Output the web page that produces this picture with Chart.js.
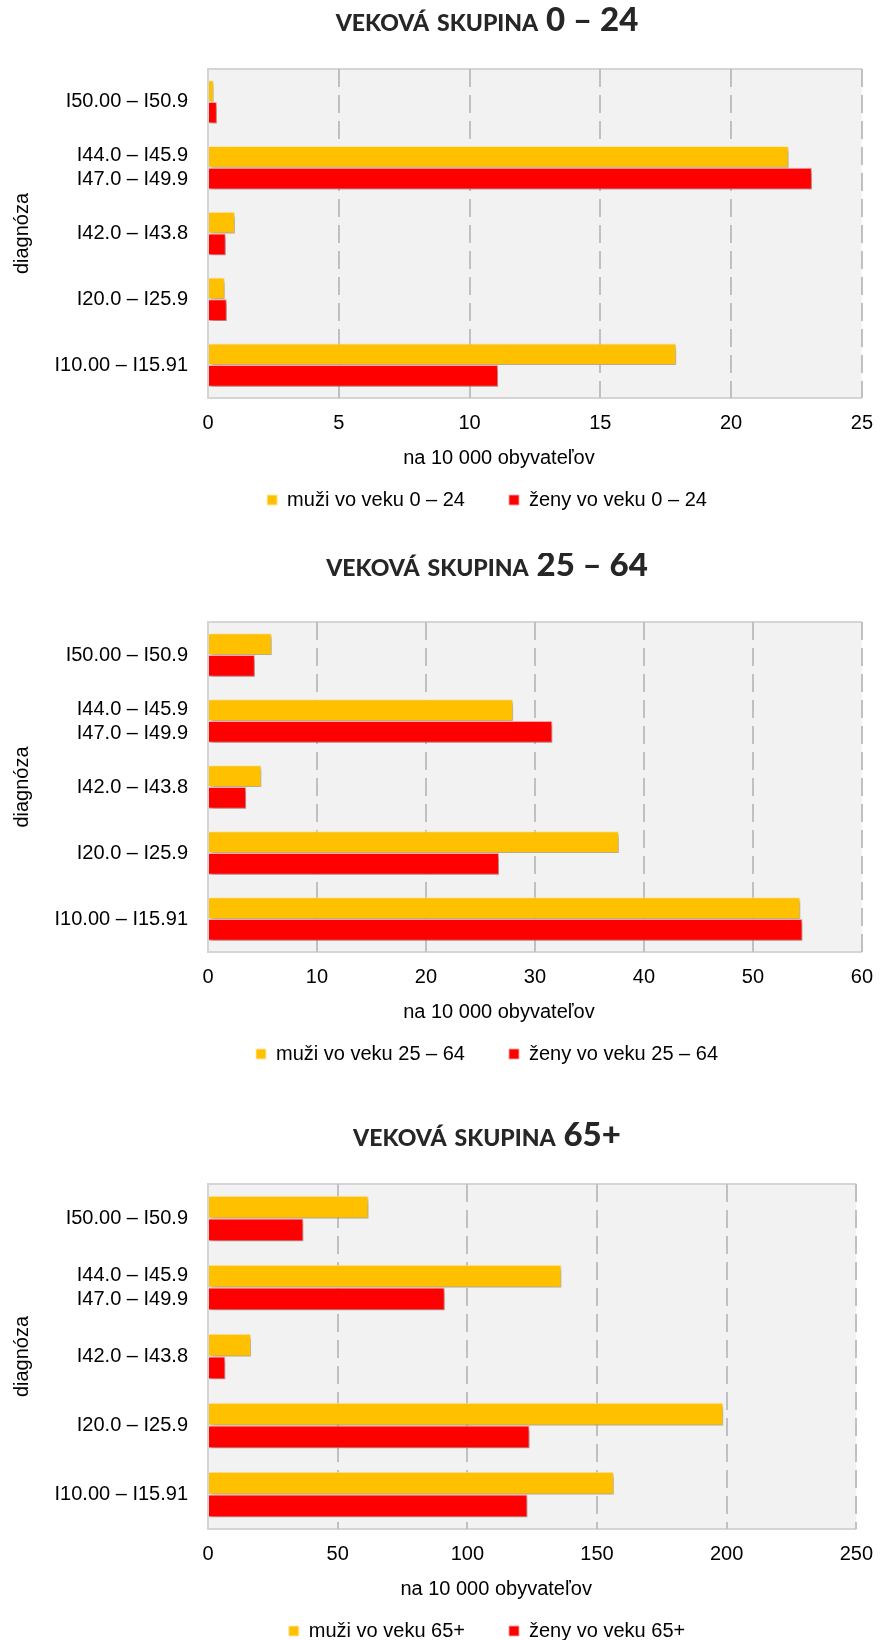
<!DOCTYPE html>
<html><head><meta charset="utf-8">
<script src="https://cdn.jsdelivr.net/npm/chart.js@4.4.1/dist/chart.umd.min.js"></script>
<style>
html,body{margin:0;padding:0;background:#fff;overflow:hidden;width:886px;height:1640px;}
.box{position:absolute;left:0;width:886px;}
</style></head><body>
<div class="box" style="top:0;height:553px"><canvas id="c1"></canvas></div>
<div class="box" style="top:553px;height:562px"><canvas id="c2"></canvas></div>
<div class="box" style="top:1115px;height:525px"><canvas id="c3"></canvas></div>
<script>
// ---- data ----
const diagnoses = ['I50.00 – I50.9', ['I44.0 – I45.9', 'I47.0 – I49.9'], 'I42.0 – I43.8', 'I20.0 – I25.9', 'I10.00 – I15.91'];
const chartTitles = ['veková skupina 0 – 24', 'veková skupina 25 – 64', 'veková skupina 65+'];
const menLabels = ['muži vo veku 0 – 24', 'muži vo veku 25 – 64', 'muži vo veku 65+'];
const womenLabels = ['ženy vo veku 0 – 24', 'ženy vo veku 25 – 64', 'ženy vo veku 65+'];
const xAxisTitle = 'na 10 000 obyvateľov';
const yAxisTitle = 'diagnóza';

const men0_24 = [0.22, 22.2, 1.03, 0.64, 17.9];
const women0_24 = [0.34, 23.09, 0.68, 0.72, 11.09];
const men25_64 = [5.85, 28.0, 4.9, 37.7, 54.35];
const women25_64 = [4.3, 31.6, 3.5, 26.7, 54.55];
const men65 = [61.9, 136.3, 16.6, 198.7, 156.5];
const women65 = [36.8, 91.3, 6.7, 124.0, 123.2];

const ticks0_24 = [0, 5, 10, 15, 20, 25];
const ticks25_64 = [0, 10, 20, 30, 40, 50, 60];
const ticks65 = [0, 50, 100, 150, 200, 250];

// ---- styling ----
const FONT = "'Liberation Sans', Arial, sans-serif";
const MEN_COLOR = '#FFC000';
const WOMEN_COLOR = '#FF0000';

const plotBg = {
  id: 'plotBg',
  beforeDraw(chart) {
    const {ctx, chartArea: a} = chart;
    ctx.save();
    ctx.fillStyle = '#F2F2F2';
    ctx.fillRect(a.left, a.top, a.width, a.height);
    ctx.strokeStyle = '#D5D5D5';
    ctx.lineWidth = 2;
    ctx.beginPath();
    ctx.moveTo(a.right, a.top); ctx.lineTo(a.left, a.top);
    ctx.lineTo(a.left, a.bottom); ctx.lineTo(a.right, a.bottom);
    ctx.stroke();
    ctx.restore();
  }
};
const barShadow = {
  id: 'barShadow',
  beforeDatasetsDraw(chart) {
    const ctx = chart.ctx;
    ctx.save();
    ctx.shadowColor = 'rgba(0,0,0,0.3)';
    ctx.shadowBlur = 4;
    ctx.shadowOffsetX = 2;
    ctx.shadowOffsetY = 3;
  },
  afterDatasetsDraw(chart) { chart.ctx.restore(); }
};
// let the category labels / axis titles use the free space on the left
const axisRoom = {
  id: 'axisRoom',
  afterLayout(chart) {
    chart.scales.y.left = 0;
    chart.scales.x.left -= 72;
  }
};

function makeChart(id, title, men, women, ticks, menLabel, womenLabel, bottomPad, titleShift) {
  return new Chart(document.getElementById(id), {
    type: 'bar',
    data: {
      labels: diagnoses,
      datasets: [
        {label: menLabel, data: men, backgroundColor: MEN_COLOR, borderColor: 'rgba(255,235,170,0.9)', borderWidth: 1},
        {label: womenLabel, data: women, backgroundColor: WOMEN_COLOR, borderColor: 'rgba(255,160,160,0.9)', borderWidth: 1}
      ]
    },
    options: {
      indexAxis: 'y',
      responsive: true,
      maintainAspectRatio: false,
      animation: false,
      layout: {padding: {left: 106, right: 18, top: 0, bottom: bottomPad}},
      datasets: {bar: {categoryPercentage: 0.66, barPercentage: 1}},
      scales: {
        x: {
          min: ticks[0], max: ticks[ticks.length - 1],
          ticks: {stepSize: ticks[1] - ticks[0], color: '#000', font: {family: FONT, size: 20}, padding: 13, maxRotation: 0, autoSkip: false},
          grid: {color: (c) => c.index === 0 ? 'rgba(0,0,0,0)' : '#C0C0C0', lineWidth: 2, drawTicks: false},
          border: {display: false, dash: [18, 8]},
          title: {display: true, text: xAxisTitle, color: '#000', font: {family: FONT, size: 20}, padding: {top: -2, bottom: -24}}
        },
        y: {
          grid: {display: false, drawTicks: false},
          border: {display: false},
          ticks: {color: '#000', font: {family: FONT, size: 20}, padding: 20, autoSkip: false},
          title: {display: true, text: yAxisTitle, color: '#000', font: {family: FONT, size: 20}, padding: {top: 10, bottom: 0}},
          afterFit(s) { s.width = 102; }
        }
      },
      plugins: {
        title: {display: true, text: title, color: '#262626', font: {family: 'Lato', weight: 'small-caps 900', size: 33}, padding: {top: 1 - titleShift, bottom: 28.4 + titleShift}},
        legend: {position: 'bottom', labels: {boxWidth: 10, boxHeight: 10, padding: 44, color: '#000', font: {family: FONT, size: 20}}},
        tooltip: {enabled: false}
      }
    },
    plugins: [plotBg, barShadow, axisRoom]
  });
}

makeChart('c1', chartTitles[0], men0_24, women0_24, ticks0_24, menLabels[0], womenLabels[0], 33, 0);
makeChart('c2', chartTitles[1], men25_64, women25_64, ticks25_64, menLabels[1], womenLabels[1], 41, 8);
makeChart('c3', chartTitles[2], men65, women65, ticks65, menLabels[2], womenLabels[2], -11, 0);
</script>
</body></html>
